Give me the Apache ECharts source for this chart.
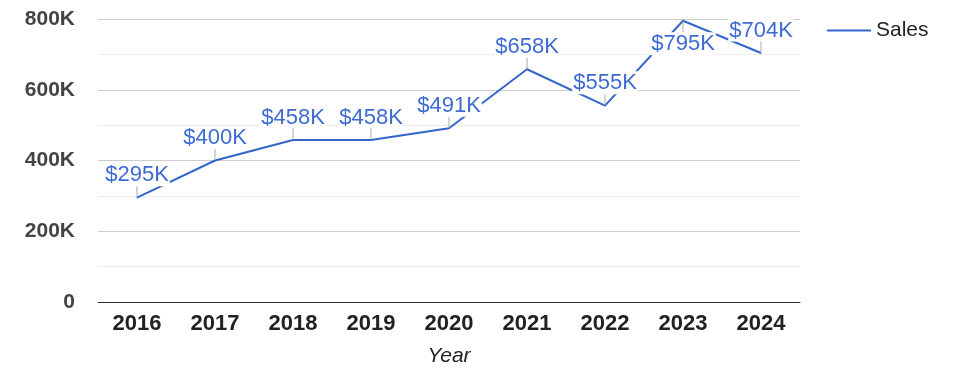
<!DOCTYPE html>
<html>
<head>
<meta charset="utf-8">
<script src="https://cdn.jsdelivr.net/npm/echarts@6/dist/echarts.min.js"></script>
<style>
  html, body { margin: 0; padding: 0; background: #fff; }
  #main { width: 975px; height: 378px; }
</style>
</head>
<body>
<div id="main"></div>
<script>
// data
var years = ["2016", "2017", "2018", "2019", "2020", "2021", "2022", "2023", "2024"]
var sales = [295000, 400000, 458000, 458000, 491000, 658000, 555000, 795000, 704000]
var labelBelow = [false, false, false, false, false, false, false, true, false]
var yTicks = [0, 200000, 400000, 600000, 800000]

var chartDom = document.getElementById("main")
var myChart = echarts.init(chartDom)

var font = "Liberation Sans, Arial, sans-serif"
var blue = "#3366cc"

function money(v) {
  return "$" + Math.round(v / 1000) + "K"
}

var richStyle = {
  v: {
    fontFamily: font,
    fontSize: 22,
    color: "#3d6bd1",
    backgroundColor: "#fff",
    padding: [1, 1, 0, 1],
    align: "center",
    lineHeight: 23
  },
  l: {
    width: 1,
    height: 11,
    fontSize: 1,
    lineHeight: 11,
    backgroundColor: "#aaa",
    align: "center"
  }
}

var points = sales.map(function (v, i) {
  return {
    value: v,
    label: labelBelow[i]
      ? { position: "bottom", distance: 0, formatter: "{l| }\n{v|" + money(v) + "}" }
      : { position: "top", distance: 0, formatter: "{v|" + money(v) + "}\n{l| }" }
  }
})

var option = {
  animation: false,
  textStyle: { fontFamily: font },
  grid: {
    left: 98,
    right: 175,
    top: 19,
    bottom: 76
  },
  legend: {
    left: 822,
    top: 15,
    icon: "rect",
    itemWidth: 44,
    itemHeight: 2,
    textStyle: {
      fontFamily: font,
      fontSize: 21,
      color: "#222"
    },
    data: ["Sales"]
  },
  xAxis: {
    type: "category",
    data: years,
    boundaryGap: true,
    name: "Year",
    nameLocation: "middle",
    nameGap: 44,
    nameTextStyle: {
      fontFamily: font,
      fontSize: 21,
      fontStyle: "italic",
      color: "#222"
    },
    axisLine: { lineStyle: { color: "#333", width: 1 } },
    axisTick: { show: false },
    axisLabel: {
      margin: 11,
      fontFamily: font,
      fontSize: 22,
      fontWeight: "bold",
      color: "#222"
    }
  },
  yAxis: {
    type: "value",
    min: yTicks[0],
    max: yTicks[yTicks.length - 1],
    interval: yTicks[1] - yTicks[0],
    axisLine: { show: false },
    axisTick: { show: false },
    axisLabel: {
      margin: 23,
      fontFamily: font,
      fontSize: 21,
      fontWeight: "bold",
      color: "#444",
      formatter: function (v) {
        return v === 0 ? "0" : v / 1000 + "K"
      }
    },
    splitLine: { lineStyle: { color: "#ccc" } },
    minorTick: { show: false, splitNumber: 2 },
    minorSplitLine: { show: true, lineStyle: { color: "#ebebeb" } }
  },
  series: [
    {
      name: "Sales",
      type: "line",
      data: points,
      symbol: "circle",
      symbolSize: 1,
      showSymbol: true,
      color: blue,
      lineStyle: { color: blue, width: 2 },
      itemStyle: { color: blue },
      label: {
        show: true,
        rich: richStyle
      },
      z: 3
    }
  ]
}

option && myChart.setOption(option)
</script>
</body>
</html>
